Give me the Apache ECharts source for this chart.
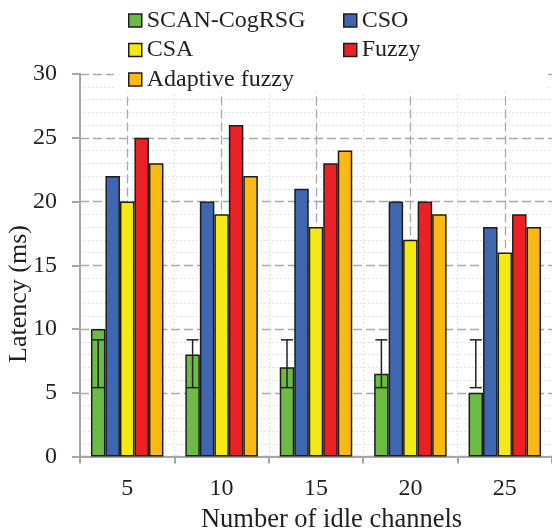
<!DOCTYPE html>
<html>
<head>
<meta charset="utf-8">
<script src="https://cdn.jsdelivr.net/npm/echarts@6/dist/echarts.min.js"></script>
<style>html,body{margin:0;padding:0;background:#fff}#c{width:552px;height:530px}</style>
</head>
<body>
<div id="c"></div>
<script>
const categories = ['5', '10', '15', '20', '25'];
const seriesNames = ['SCAN-CogRSG', 'CSO', 'CSA', 'Fuzzy', 'Adaptive fuzzy'];
const scanCogRSG = [10, 8, 7, 6.5, 5];
const cso = [22, 20, 21, 20, 18];
const csa = [20, 19, 18, 17, 16];
const fuzzy = [25, 26, 23, 20, 19];
const adaptiveFuzzy = [23, 22, 24, 19, 18];
const errLow = [5.4, 5.4, 5.4, 5.4, 5.4];
const errHigh = [9.15, 9.15, 9.15, 9.15, 9.15];
const yTicks = [0, 5, 10, 15, 20, 25, 30];

const FONT = "'Liberation Serif', 'Times New Roman', serif";
const TXT = '#231f20';
const AX = '#a6a6a6';
const BAR_W = 14.5;
const colors = ['#6cbb45', '#3f66b0', '#f5e913', '#ed2024', '#fcb814'];
const values = [scanCogRSG, cso, csa, fuzzy, adaptiveFuzzy];

const chart = echarts.init(document.getElementById('c'), null, {renderer: 'canvas'});

const barSeries = seriesNames.map((n, i) => {
  const s = {
    name: n,
    type: 'bar',
    data: values[i],
    barWidth: BAR_W,
    barGap: '0%',
    z: 2,
    itemStyle: {color: colors[i], borderColor: '#1e1e1e', borderWidth: 1.5}
  };
  if (i === 2) {
    s.markLine = {
      silent: true,
      z: 1,
      symbol: ['none', 'none'],
      label: {show: false},
      lineStyle: {color: '#aaaaaa', width: 1.3, type: [9, 4]},
      data: categories.map(c => ({xAxis: c}))
    };
  }
  return s;
});

const errSeries = {
  type: 'custom',
  name: 'err',
  z: 3,
  silent: true,
  data: categories.map((c, i) => [i, errLow[i], errHigh[i]]),
  encode: {x: 0, y: [1, 2]},
  renderItem: function (params, api) {
    const idx = api.value(0);
    const lo = api.coord([idx, api.value(1)]);
    const hi = api.coord([idx, api.value(2)]);
    const x = lo[0] - 2 * BAR_W;
    const hw = 6;
    const st = {stroke: '#222', lineWidth: 1.5};
    return {type: 'group', children: [
      {type: 'line', shape: {x1: x, y1: lo[1], x2: x, y2: hi[1]}, style: st},
      {type: 'line', shape: {x1: x - hw, y1: lo[1], x2: x + hw, y2: lo[1]}, style: st},
      {type: 'line', shape: {x1: x - hw, y1: hi[1], x2: x + hw, y2: hi[1]}, style: st}
    ]};
  }
};

const legendBase = {
  top: 0,
  orient: 'vertical',
  padding: [8.5, 0, 0, 0],
  itemGap: 5.5,
  itemWidth: 13,
  itemHeight: 13,
  icon: 'rect',
  selectedMode: false,
  z: 10,
  itemStyle: {borderColor: '#1e1e1e', borderWidth: 1.5},
  textStyle: {fontFamily: FONT, fontSize: 24, color: TXT}
};

const option = {
  animation: false,
  backgroundColor: '#fff',
  grid: {left: 80, right: -3, top: 74, bottom: 73.5, containLabel: false},
  legend: [
    Object.assign({}, legendBase, {left: 128, data: [seriesNames[0], seriesNames[2], seriesNames[4]]}),
    Object.assign({}, legendBase, {left: 343, data: [seriesNames[1], seriesNames[3]]})
  ],
  xAxis: {
    type: 'category',
    data: categories,
    boundaryGap: true,
    axisLine: {lineStyle: {color: AX, width: 2}},
    axisTick: {show: true, length: 7, lineStyle: {color: AX, width: 2}},
    axisLabel: {fontFamily: FONT, fontSize: 24, color: TXT, margin: 20},
    splitLine: {show: true, lineStyle: {color: '#e2e2e2', width: 1, type: [2, 2]}}
  },
  yAxis: {
    type: 'value',
    min: yTicks[0],
    max: yTicks[yTicks.length - 1],
    interval: 5,
    axisLine: {show: true, lineStyle: {color: AX, width: 2}},
    axisTick: {show: true, length: 8, lineStyle: {color: AX, width: 2}},
    axisLabel: {fontFamily: FONT, fontSize: 24, color: TXT, margin: 23},
    splitLine: {show: true, lineStyle: {color: '#aaaaaa', width: 1.3, type: [9, 4]}},
    minorTick: {show: false, splitNumber: 5},
    minorSplitLine: {show: true, lineStyle: {color: '#e2e2e2', width: 1, type: [2, 2]}}
  },
  graphic: [
    {type: 'rect', z: 8, silent: true,
     shape: {x: 114, y: 0, width: 433, height: 92},
     style: {fill: '#ffffff'}},
    {type: 'text', x: 19, y: 294, rotation: Math.PI / 2, z: 100,
     style: {text: 'Latency (ms)', fontFamily: FONT, fontSize: 26, fill: TXT, align: 'center', verticalAlign: 'middle'}},
    {type: 'text', x: 331.5, y: 520, z: 100,
     style: {text: 'Number of idle channels', fontFamily: FONT, fontSize: 26.5, fill: TXT, align: 'center', verticalAlign: 'middle'}}
  ],
  series: barSeries.concat([errSeries])
};
chart.setOption(option);
</script>
</body>
</html>
